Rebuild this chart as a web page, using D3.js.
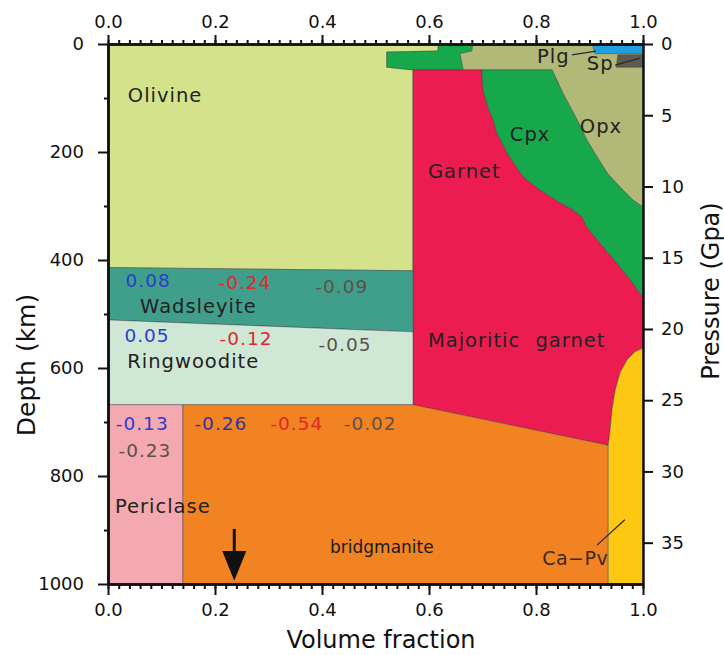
<!DOCTYPE html>
<html>
<head>
<meta charset="utf-8">
<script src="https://cdn.jsdelivr.net/npm/d3@7"></script>
<style>
  body { margin: 0; background: #fff; }
  text { font-family: "DejaVu Sans", sans-serif; }
</style>
</head>
<body>
<svg id="chart" width="724" height="655"></svg>
<script>
// every point is [volume fraction, depth in km]
var garnetCpxEdge = [[0.699,48],[0.701,85],[0.710,117],[0.718,135],[0.727,165],[0.746,202],[0.776,246],
                     [0.807,270],[0.845,294],[0.869,307],[0.886,320],[0.895,339],[0.920,369],[0.957,413],[0.981,443],[1,470]];
var cpxOpxEdge = [[0.830,48],[0.839,67],[0.850,91],[0.864,117],[0.877,141],[0.886,159],[0.895,178],
                  [0.914,209],[0.933,239],[0.957,265],[0.981,289],[1,302]];
var caPvEdge = [[1,563],[0.985,570],[0.970,585],[0.957,609],[0.948,641],[0.942,678],[0.938,720],[0.935,743]];

var olivine     = [[0,0],[0.617,0],[0.617,13],[0.521,15],[0.521,43],[0.57,48],[0.57,420],[0,414]];
var shallowCpx  = [[0.617,0],[0.682,0],[0.680,13],[0.658,18],[0.664,48],[0.57,48],[0.521,43],[0.521,15],[0.617,13]];
var plagioclase = [[0.905,0],[1,0],[1,18],[0.91,18]];
var spinel      = [[0.953,20],[1,20],[1,43],[0.95,43]];
var wadsleyite  = [[0,414],[0.57,420],[0.57,533],[0,511]];
var ringwoodite = [[0,511],[0.57,533],[0.57,668],[0,668]];
var periclase   = [[0,668],[0.14,668],[0.14,1000],[0,1000]];
var bridgmanite = [[0.14,668],[0.57,668],[0.935,743],[0.935,1000],[0.14,1000]];

var opx    = [[0.57,0],[1,0]].concat(cpxOpxEdge.slice().reverse()).concat([[0.57,48]]);
var cpx    = cpxOpxEdge.concat(garnetCpxEdge.slice().reverse());
var garnet = [[0.57,48]].concat(garnetCpxEdge).concat(caPvEdge).concat([[0.57,668]]);
var caPv   = caPvEdge.concat([[0.935,1000],[1,1000]]);

var phases = [
  {name:"Opx", pts:opx, fill:"#b2b878"},
  {name:"Olivine", pts:olivine, fill:"#d4e28b"},
  {name:"shallow Cpx", pts:shallowCpx, fill:"#18a84c"},
  {name:"Plg", pts:plagioclase, fill:"#1f9fe0"},
  {name:"Sp", pts:spinel, fill:"#5b5b52"},
  {name:"Garnet", pts:garnet, fill:"#ec1b50"},
  {name:"Cpx", pts:cpx, fill:"#18a84c"},
  {name:"Wadsleyite", pts:wadsleyite, fill:"#409f8b"},
  {name:"Ringwoodite", pts:ringwoodite, fill:"#cfe8d6"},
  {name:"Periclase", pts:periclase, fill:"#f4a8af"},
  {name:"Bridgmanite", pts:bridgmanite, fill:"#f28322"},
  {name:"Ca-Pv", pts:caPv, fill:"#fcc812"}
];

var fracTicks = [0, 0.2, 0.4, 0.6, 0.8, 1.0];
var depthTicks = [0, 200, 400, 600, 800, 1000];
var pressureTicks = [0, 5, 10, 15, 20, 25, 30, 35];

var mineralNames = [
  {text:"Olivine", f:0.037, d:107},
  {text:"Garnet", f:0.598, d:248},
  {text:"Cpx", f:0.751, d:180},
  {text:"Opx", f:0.882, d:165},
  {text:"Majoritic garnet", f:0.598, d:561},
  {text:"Wadsleyite", f:0.060, d:498},
  {text:"Ringwoodite", f:0.036, d:600},
  {text:"Periclase", f:0.013, d:869},
  {text:"Plg", f:0.802, d:35},
  {text:"Sp", f:0.895, d:48}
];

// numbers: value text, centre position, kind (colour group)
var anomalies = [
  {text:"0.08", f:0.075, d:450, kind:"blue"},
  {text:"-0.24", f:0.256, d:454, kind:"red"},
  {text:"-0.09", f:0.437, d:461, kind:"gray"},
  {text:"0.05", f:0.073, d:552, kind:"blue"},
  {text:"-0.12", f:0.258, d:558, kind:"red"},
  {text:"-0.05", f:0.443, d:568, kind:"gray"},
  {text:"-0.13", f:0.064, d:715, kind:"blue"},
  {text:"-0.26", f:0.211, d:715, kind:"indigo"},
  {text:"-0.54", f:0.353, d:715, kind:"red"},
  {text:"-0.02", f:0.490, d:715, kind:"gray"},
  {text:"-0.23", f:0.069, d:765, kind:"gray"}
];
var kindColor = {blue:"#2b3dcc", indigo:"#34329c", red:"#e2262b", gray:"#5e5048"};

var leaders = [
  [[0.867,20],[0.912,13]],
  [[0.948,39],[0.994,26]],
  [[0.914,928],[0.966,881]]
];

var svg = d3.select("#chart");

var x = d3.scaleLinear().domain([0, 1]).range([108, 643]);
var y = d3.scaleLinear().domain([0, 1000]).range([44, 584]);
var p = d3.scaleLinear().domain([0, 37.9]).range([44, 584]);

var line = d3.line().x(d => x(d[0])).y(d => y(d[1]));

// phase fields
svg.append("g")
  .selectAll("path")
  .data(phases)
  .enter()
  .append("path")
  .attr("d", d => line(d.pts) + "Z")
  .attr("fill", d => d.fill)
  .attr("stroke", "#3a3a3a")
  .attr("stroke-opacity", 0.55)
  .attr("stroke-width", 0.8)
  .attr("stroke-linejoin", "round");

// leader lines
svg.append("g")
  .selectAll("path")
  .data(leaders)
  .enter()
  .append("path")
  .attr("d", d => line(d))
  .attr("stroke", "#2a2a2a")
  .attr("stroke-width", 1.3)
  .attr("fill", "none");

// mineral names
svg.append("g")
  .selectAll("text")
  .data(mineralNames)
  .enter()
  .append("text")
  .attr("x", d => x(d.f))
  .attr("y", d => y(d.d))
  .attr("font-size", 19.5)
  .attr("letter-spacing", 1)
  .attr("word-spacing", 8)
  .attr("fill", "#222")
  .text(d => d.text);

svg.append("text")
  .attr("x", x(0.415)).attr("y", y(943))
  .attr("font-size", 17)
  .attr("fill", "#1a1a1a")
  .text("bridgmanite");

svg.append("text")
  .attr("x", x(0.935)).attr("y", y(965))
  .attr("text-anchor", "end")
  .attr("font-size", 19)
  .attr("letter-spacing", 0.5)
  .attr("fill", "#3a2a20")
  .text("Ca\u2212Pv");

// numbers
svg.append("g")
  .selectAll("text")
  .data(anomalies)
  .enter()
  .append("text")
  .attr("x", d => x(d.f))
  .attr("y", d => y(d.d))
  .attr("text-anchor", "middle")
  .attr("font-size", 18.5)
  .attr("letter-spacing", 1)
  .attr("fill", d => kindColor[d.kind])
  .text(d => d.text);

// arrow at 0.236
var ax = x(0.236);
svg.append("line")
  .attr("x1", ax).attr("x2", ax)
  .attr("y1", y(898)).attr("y2", y(945))
  .attr("stroke", "#111").attr("stroke-width", 3);
svg.append("path")
  .attr("d", "M" + (ax - 12) + "," + y(939) + "L" + (ax + 12) + "," + y(939) + "L" + ax + "," + y(994) + "Z")
  .attr("fill", "#111");

// axes
function styleAxis(g, size) {
  g.select(".domain").attr("stroke", "#111").attr("stroke-width", 2.5);
  g.selectAll(".tick line").attr("stroke", "#111").attr("stroke-width", 2);
  g.selectAll(".tick text").attr("font-size", size).attr("fill", "#111")
    .attr("font-family", "DejaVu Sans, sans-serif");
}

var minorFrac = d3.range(0, 1.0001, 0.02);

var gTopMinor = svg.append("g").attr("transform", "translate(0,44)")
  .call(d3.axisTop(x).tickValues(minorFrac).tickSize(4).tickSizeOuter(0).tickFormat(""));
styleAxis(gTopMinor, 18);
var gTop = svg.append("g").attr("transform", "translate(0,44)")
  .call(d3.axisTop(x).tickValues(fracTicks).tickSize(9).tickSizeOuter(0).tickPadding(7).tickFormat(d3.format(".1f")));
styleAxis(gTop, 18);

var gBotMinor = svg.append("g").attr("transform", "translate(0,584)")
  .call(d3.axisBottom(x).tickValues(minorFrac).tickSize(5).tickSizeOuter(0).tickFormat(""));
styleAxis(gBotMinor, 18);
var gBot = svg.append("g").attr("transform", "translate(0,584)")
  .call(d3.axisBottom(x).tickValues(fracTicks).tickSize(11).tickSizeOuter(0).tickPadding(8).tickFormat(d3.format(".1f")));
styleAxis(gBot, 18);

var gLeftMinor = svg.append("g").attr("transform", "translate(108,0)")
  .call(d3.axisLeft(y).tickValues([100, 300, 500, 700, 900]).tickSize(4).tickSizeOuter(0).tickFormat(""));
styleAxis(gLeftMinor, 18);
var gLeft = svg.append("g").attr("transform", "translate(108,0)")
  .call(d3.axisLeft(y).tickValues(depthTicks).tickSize(10).tickSizeOuter(0).tickPadding(14).tickFormat(d3.format("d")));
styleAxis(gLeft, 18);

var gRight = svg.append("g").attr("transform", "translate(643,0)")
  .call(d3.axisRight(p).tickValues(pressureTicks).tickSize(10).tickSizeOuter(0).tickPadding(8).tickFormat(d3.format("d")));
styleAxis(gRight, 18);

// axis titles
svg.append("text")
  .attr("x", 381).attr("y", 648)
  .attr("text-anchor", "middle")
  .attr("font-size", 24)
  .attr("fill", "#111")
  .text("Volume fraction");

svg.append("text")
  .attr("transform", "translate(26,365) rotate(-90)")
  .attr("text-anchor", "middle")
  .attr("dominant-baseline", "central")
  .attr("font-size", 25)
  .attr("fill", "#111")
  .text("Depth (km)");

svg.append("text")
  .attr("transform", "translate(711,291) rotate(-90)")
  .attr("text-anchor", "middle")
  .attr("dominant-baseline", "central")
  .attr("font-size", 24)
  .attr("fill", "#111")
  .text("Pressure (Gpa)");
</script>
</body>
</html>
